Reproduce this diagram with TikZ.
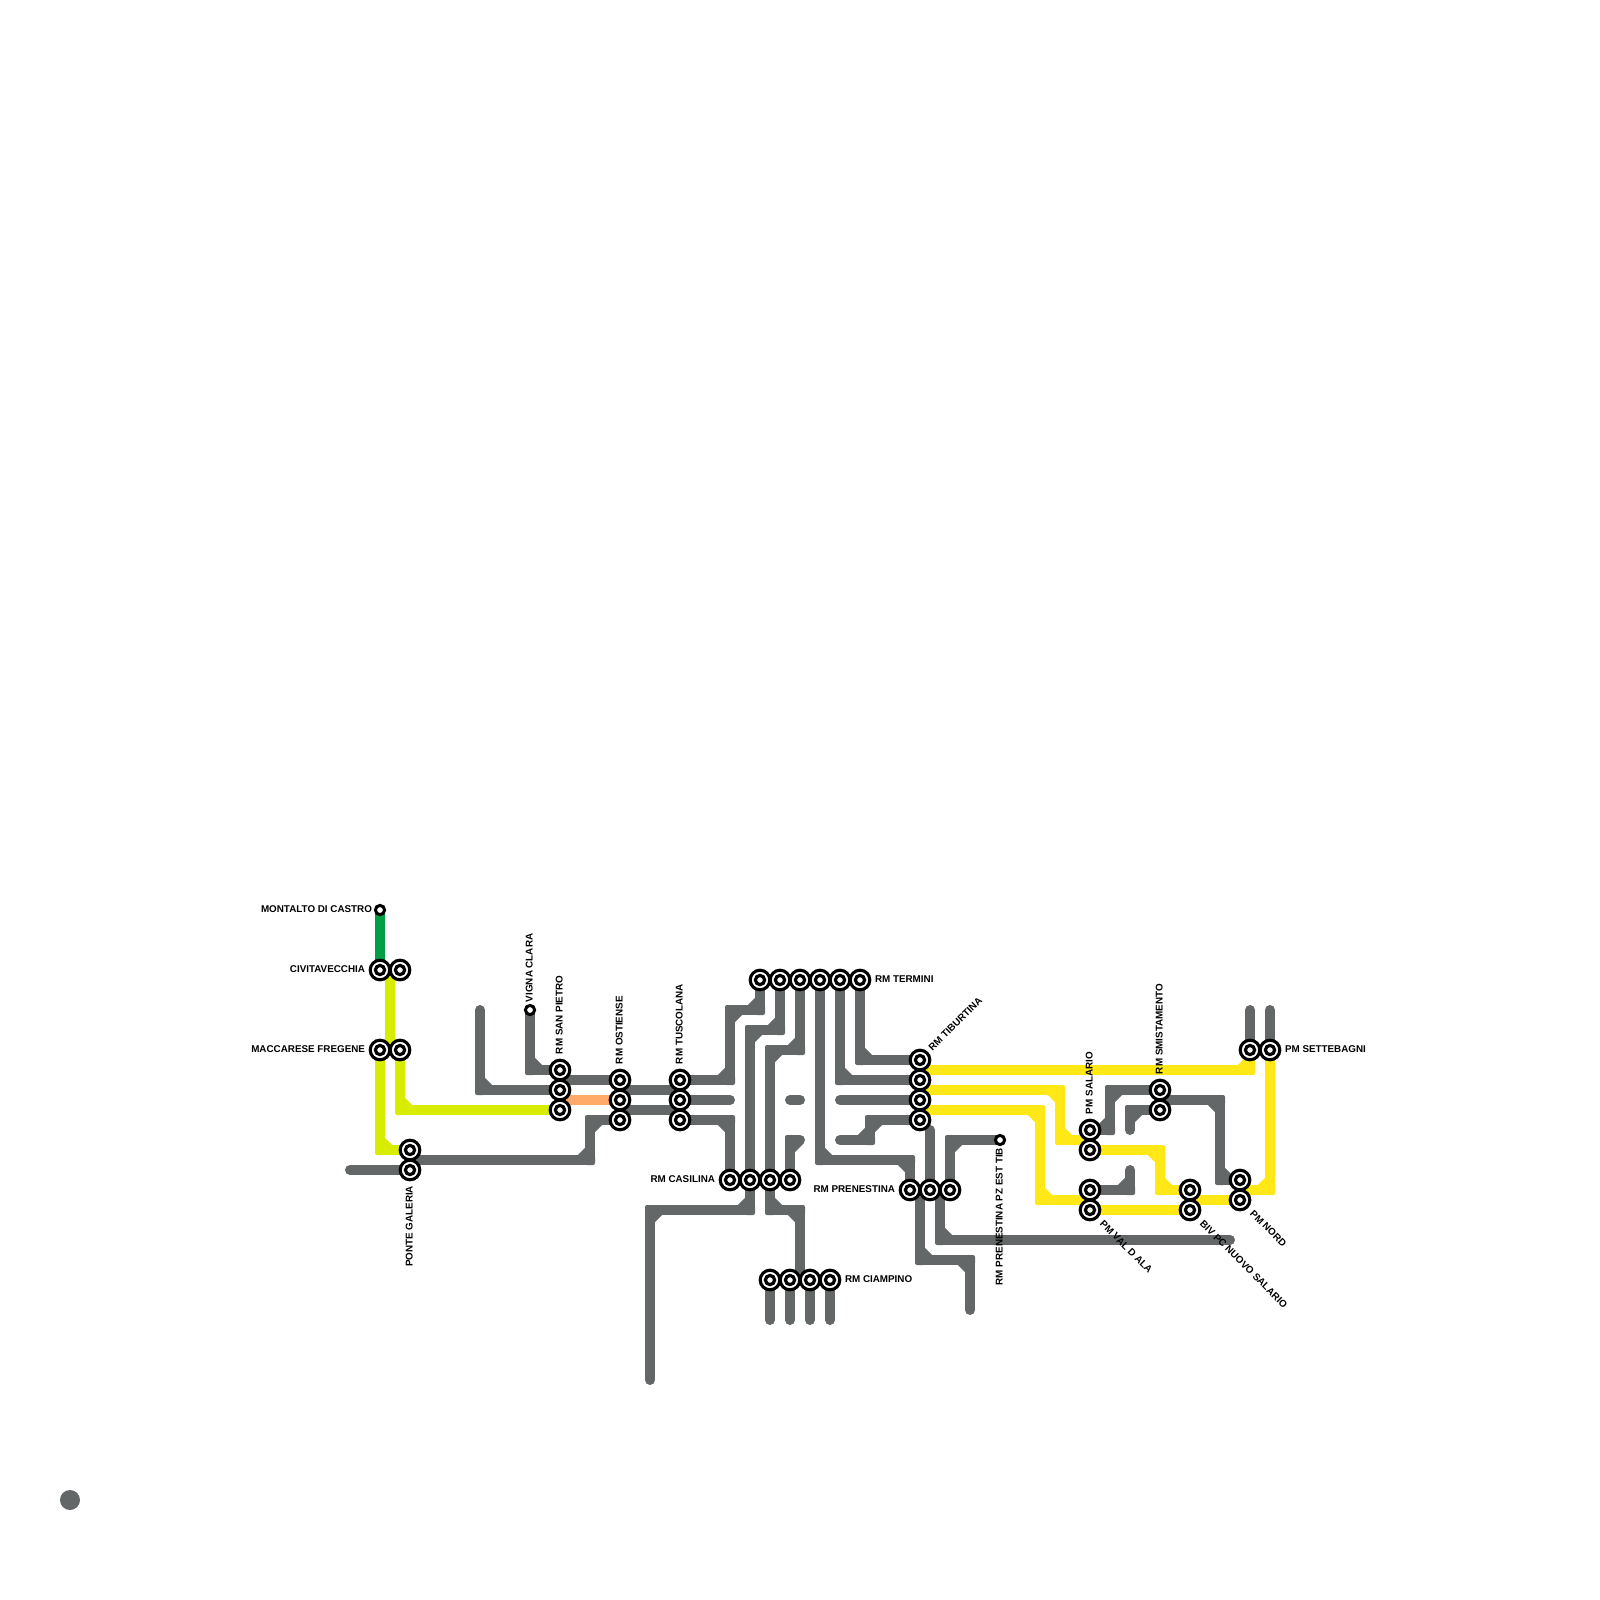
\documentclass[tikz,border=0pt]{standalone}
\usepackage{fontspec}
\setmainfont{Liberation Sans}
\usetikzlibrary{calc}
\pgfdeclarelayer{bg}
\pgfsetlayers{bg,main}
\definecolor{lgrey}{HTML}{636767}
\definecolor{lyellow}{HTML}{FFE815}
\definecolor{llime}{HTML}{D8EC00}
\definecolor{lgreen}{HTML}{009F45}
\definecolor{lorange}{HTML}{FFA96B}
\tikzset{
  base/.style={line width=5pt,line cap=round,line join=round},
  gl/.style={base,color=lgrey},
  yl/.style={base,color=lyellow},
  ll/.style={base,color=llime},
  gn/.style={base,color=lgreen},
  ol/.style={base,color=lorange},
  sta/.style={circle,draw=black,fill=white,line width=1.55pt,minimum size=9.8pt,inner sep=0pt,outer sep=0pt,
    path picture={\draw[black,line width=1.6pt] (path picture bounding box.center) circle (2.3pt);}},
  smallsta/.style={circle,draw=black,fill=white,line width=1.5pt,minimum size=4.6pt,inner sep=0pt,outer sep=0pt},
  lab/.style={inner sep=0pt,outer sep=0pt,text=black,text height=3.6pt,text depth=0pt,
    font=\fontsize{4.92}{6}\selectfont\bfseries},
}
\newcommand\metro[2]{%
  \begin{pgfonlayer}{bg}%
  \gdef\mpath{}%
  \foreach \P [count=\i] in {#2}{%
    \ifnum\i=1 \xdef\mpath{(\P)}\else \xdef\mpath{\mpath -- (\P)}\fi}%
  \edef\tmpdraw{\noexpand\draw[#1] \mpath;}\tmpdraw
  \foreach \P [count=\i] in {#2}{%
    \ifnum\i>2
      \path (\P) coordinate (mA) (\mpQ) coordinate (mB) (\mpR) coordinate (mC);
      \draw[#1,line cap=butt] ($(mB)!5pt!(mC)$) -- ($(mB)!5pt!(mA)$);
      \fill[#1,rounded corners=1pt] ($(mB)+(-2.5pt,-2.5pt)$) rectangle ($(mB)+(2.5pt,2.5pt)$);
    \fi
    \ifnum\i>1 \xdef\mpR{\mpQ}\fi
    \xdef\mpQ{\P}}%
  \end{pgfonlayer}%
}
\begin{document}
\begin{tikzpicture}[x=0.5pt,y=-0.5pt]
\useasboundingbox (0,0) rectangle (1600,1600);
\begin{pgfonlayer}{bg}
\fill[white] (0,0) rectangle (1600,1600);
\end{pgfonlayer}
% stations
\node[smallsta] (mon) at (380,910) {};
\node[smallsta] (vig) at (530,1010) {};
\node[smallsta] (est) at (1000,1140) {};
\node[sta] (civA) at (380,970) {};
\node[sta] (civB) at (400,970) {};
\node[sta] (macA) at (380,1050) {};
\node[sta] (macB) at (400,1050) {};
\node[sta] (ponA) at (410,1150) {};
\node[sta] (ponB) at (410,1170) {};
\node[sta] (spA) at (560,1070) {};
\node[sta] (spB) at (560,1090) {};
\node[sta] (spC) at (560,1110) {};
\node[sta] (osA) at (620,1080) {};
\node[sta] (osB) at (620,1100) {};
\node[sta] (osC) at (620,1120) {};
\node[sta] (tuA) at (680,1080) {};
\node[sta] (tuB) at (680,1100) {};
\node[sta] (tuC) at (680,1120) {};
\node[sta] (teA) at (760,980) {};
\node[sta] (teB) at (780,980) {};
\node[sta] (teC) at (800,980) {};
\node[sta] (teD) at (820,980) {};
\node[sta] (teE) at (840,980) {};
\node[sta] (teF) at (860,980) {};
\node[sta] (tiA) at (920,1060) {};
\node[sta] (tiB) at (920,1080) {};
\node[sta] (tiC) at (920,1100) {};
\node[sta] (tiD) at (920,1120) {};
\node[sta] (caA) at (730,1180) {};
\node[sta] (caB) at (750,1180) {};
\node[sta] (caC) at (770,1180) {};
\node[sta] (caD) at (790,1180) {};
\node[sta] (prA) at (910,1190) {};
\node[sta] (prB) at (930,1190) {};
\node[sta] (prC) at (950,1190) {};
\node[sta] (ciA) at (770,1280) {};
\node[sta] (ciB) at (790,1280) {};
\node[sta] (ciC) at (810,1280) {};
\node[sta] (ciD) at (830,1280) {};
\node[sta] (saA) at (1090,1130) {};
\node[sta] (saB) at (1090,1150) {};
\node[sta] (smA) at (1160,1090) {};
\node[sta] (smB) at (1160,1110) {};
\node[sta] (vaA) at (1090,1190) {};
\node[sta] (vaB) at (1090,1210) {};
\node[sta] (biA) at (1190,1190) {};
\node[sta] (biB) at (1190,1210) {};
\node[sta] (noA) at (1240,1180) {};
\node[sta] (noB) at (1240,1200) {};
\node[sta] (seA) at (1250,1050) {};
\node[sta] (seB) at (1270,1050) {};
% dot
\fill[lgrey] (70,1500) circle (5pt);
% labels
\node[lab,anchor=east] (lmon) at (372,909) {MONTALTO DI CASTRO};
\node[lab,anchor=east] (lciv) at (365,969) {CIVITAVECCHIA};
\node[lab,anchor=east] (lmac) at (365,1049) {MACCARESE FREGENE};
\node[lab,anchor=east,rotate=90] (lpon) at (409,1186) {PONTE GALERIA};
\node[lab,anchor=west,rotate=90] (lvig) at (529,1002) {VIGNA CLARA};
\node[lab,anchor=west,rotate=90] (lsp) at (559,1054) {RM SAN PIETRO};
\node[lab,anchor=west,rotate=90] (los) at (619,1064) {RM OSTIENSE};
\node[lab,anchor=west,rotate=90] (ltu) at (679,1064) {RM TUSCOLANA};
\node[lab,anchor=west] (lte) at (875,979) {RM TERMINI};
\node[lab,anchor=west,rotate=45] (lti) at (930,1049) {RM TIBURTINA};
\node[lab,anchor=east] (lca) at (715,1179) {RM CASILINA};
\node[lab,anchor=east] (lpr) at (895,1189) {RM PRENESTINA};
\node[lab,anchor=west] (lci) at (845,1279) {RM CIAMPINO};
\node[lab,anchor=east,rotate=90] (lest) at (999,1148) {RM PRENESTINA PZ EST TIB};
\node[lab,anchor=west,rotate=90] (lsa) at (1089,1114) {PM SALARIO};
\node[lab,anchor=west,rotate=90] (lsm) at (1159,1074) {RM SMISTAMENTO};
\node[lab,anchor=west,rotate=-45] (lva) at (1102,1222) {PM VAL D ALA};
\node[lab,anchor=west,rotate=-45] (lbi) at (1202,1222) {BIV PC NUOVO SALARIO};
\node[lab,anchor=west,rotate=-45] (lno) at (1252,1212) {PM NORD};
\node[lab,anchor=west] (lse) at (1285,1049) {PM SETTEBAGNI};
% grey lines
\metro{gl}{{350,1170},ponB.center}
\metro{gl}{{410,1160},{590,1160},{590,1120},osC.center}
\metro{gl}{{480,1010},{480,1090},spB.center}
\metro{gl}{vig.center,{530,1070},spA.center}
\metro{gl}{{560,1080},osA.center}
\metro{gl}{{620,1090},{680,1090}}
\metro{gl}{{620,1110},{680,1110}}
\metro{gl}{tuA.center,{730,1080},{730,1010},{760,1010},teA.center}
\metro{gl}{tuB.center,{730,1100}}
\metro{gl}{tuC.center,{730,1120},caA.center}
\metro{gl}{teB.center,{780,1030},{750,1030},{750,1210},{650,1210},{650,1380}}
\metro{gl}{teC.center,{800,1050},{770,1050},{770,1210},{800,1210},{800,1280}}
\metro{gl}{caD.center,{790,1140},{800,1140}}
\metro{gl}{{790,1100},{800,1100}}
\metro{gl}{teD.center,{820,1160},{910,1160},prA.center}
\metro{gl}{teE.center,{840,1080},tiB.center}
\metro{gl}{teF.center,{860,1060},tiA.center}
\metro{gl}{{840,1100},tiC.center}
\metro{gl}{{840,1140},{870,1140},{870,1120},tiD.center}
\metro{gl}{{930,1130},prB.center}
\metro{gl}{prC.center,{950,1140},est.center}
\metro{gl}{{920,1190},{920,1260},{970,1260},{970,1310}}
\metro{gl}{{940,1190},{940,1240},{1230,1240}}
\metro{gl}{ciA.center,{770,1320}}
\metro{gl}{ciB.center,{790,1320}}
\metro{gl}{ciC.center,{810,1320}}
\metro{gl}{ciD.center,{830,1320}}
\metro{gl}{saA.center,{1110,1130},{1110,1090},smA.center}
\metro{gl}{{1130,1130},{1130,1110},smB.center}
\metro{gl}{vaA.center,{1130,1190},{1130,1170}}
\metro{gl}{{1160,1100},{1220,1100},{1220,1180},noA.center}
\metro{gl}{seA.center,{1250,1010}}
\metro{gl}{seB.center,{1270,1010}}
% coloured lines
\metro{gn}{mon.center,civA.center}
\metro{ll}{{390,970},{390,1050}}
\metro{ll}{macA.center,{380,1150},ponA.center}
\metro{ll}{macB.center,{400,1110},spC.center}
\metro{ol}{{560,1100},osB.center}
\metro{yl}{{920,1070},{1250,1070},seA.center}
\metro{yl}{{920,1090},{1060,1090},{1060,1140},{1090,1140}}
\metro{yl}{{920,1110},{1040,1110},{1040,1200},{1090,1200}}
\metro{yl}{saB.center,{1160,1150},{1160,1190},biA.center}
\metro{yl}{vaB.center,biB.center}
\metro{yl}{{1190,1200},{1240,1200}}
\metro{yl}{{1240,1190},{1270,1190},seB.center}
\end{tikzpicture}
\end{document}
